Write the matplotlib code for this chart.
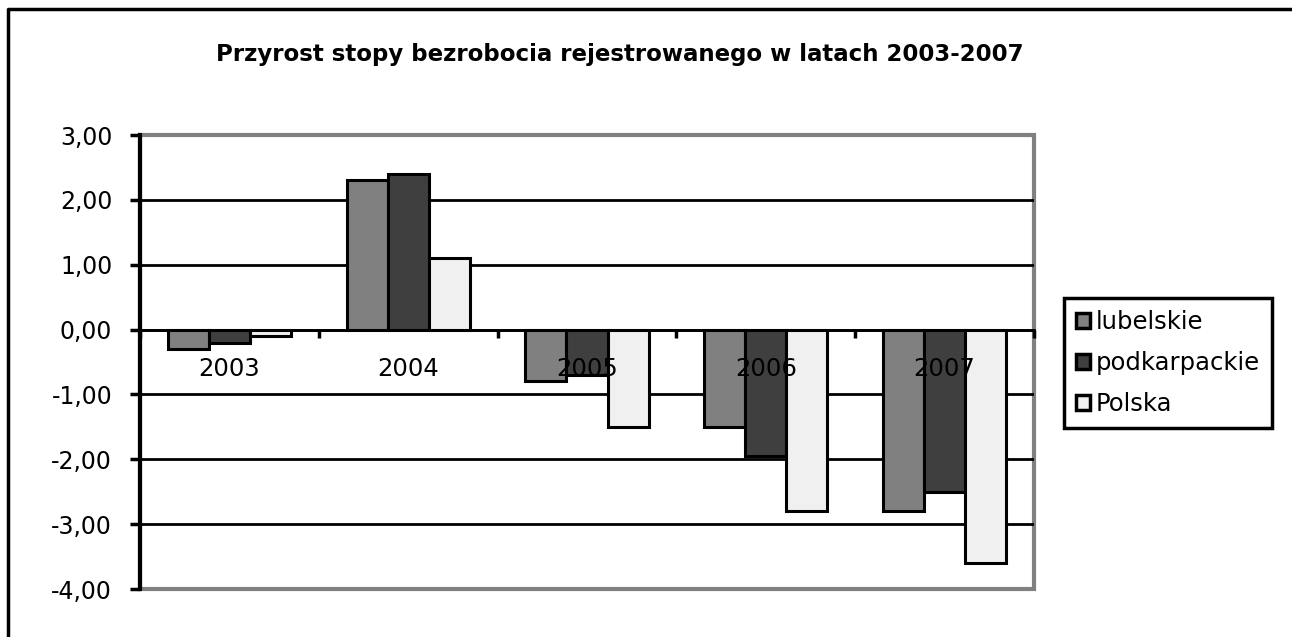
import matplotlib.pyplot as plt
import numpy as np
from matplotlib.lines import Line2D
from matplotlib.patches import Rectangle

years = ["2003", "2004", "2005", "2006", "2007"]
lubelskie = [-0.3, 2.3, -0.8, -1.5, -2.8]
podkarpackie = [-0.2, 2.4, -0.7, -1.95, -2.5]
polska = [-0.1, 1.1, -1.5, -2.8, -3.6]
series_names = ["lubelskie", "podkarpackie", "Polska"]
series_colors = ["#808080", "#3f3f3f", "#f0f0f0"]
y_ticks = [3, 2, 1, 0, -1, -2, -3, -4]

plt.rcParams["font.family"] = ["DejaVu Sans"]

fig = plt.figure(figsize=(12.92, 6.37), dpi=100)
ax = fig.add_axes([140 / 1292, 1 - 589 / 637, 894 / 1292, 454 / 637])

x = np.arange(len(years))
w = 0.23
for k, (vals, name, col) in enumerate(zip([lubelskie, podkarpackie, polska],
                                           series_names, series_colors)):
    ax.bar(x + (k - 1) * w, vals, width=w, color=col, edgecolor="black",
           linewidth=2.2, label=name, zorder=2)

ax.set_xlim(-0.5, len(years) - 0.5)
ax.set_ylim(-4, 3)
ax.set_axisbelow(False)  # category labels drawn over the bars

# horizontal grid
for v in y_ticks[1:-1]:
    ax.axhline(v, color="black", linewidth=2.0, zorder=1)

# plot area border (grey), left axis black
ax.add_patch(Rectangle((0, 0), 1, 1, transform=ax.transAxes, fill=False,
                       edgecolor="#808080", linewidth=3, zorder=0.5, clip_on=False))
for s in ["top", "right"]:
    ax.spines[s].set_visible(False)
ax.spines["left"].set_linewidth(3)
ax.spines["left"].set_zorder(4)
ax.spines["bottom"].set_position(("data", 0))
ax.spines["bottom"].set_linewidth(2.0)
ax.spines["bottom"].set_zorder(4)

ax.set_yticks(y_ticks)
ax.set_yticklabels([f"{v:.2f}".replace(".", ",") for v in y_ticks], fontsize=17)
ax.tick_params(axis="y", length=7, width=2.5, pad=13)

ax.set_xticks(np.arange(len(years) + 1) - 0.5)
ax.set_xticklabels([])
ax.tick_params(axis="x", which="major", length=6, width=2.5, direction="out")
ax.set_xticks(x, minor=True)
ax.set_xticklabels(years, minor=True, fontsize=17.5)
ax.tick_params(axis="x", which="minor", length=0, pad=20)

fig.text(0.48, 1 - 55 / 637, "Przyrost stopy bezrobocia rejestrowanego w latach 2003-2007",
         ha="center", va="center", fontsize=16.5, fontweight="bold")

leg = ax.legend(loc="center left", bbox_to_anchor=(1064 / 1292, 1 - 363 / 637),
                bbox_transform=fig.transFigure, fontsize=17.5, frameon=True,
                fancybox=False, edgecolor="black", framealpha=1,
                handlelength=0.55, handleheight=0.55, handletextpad=0.25,
                labelspacing=0.7, borderpad=0.5, borderaxespad=0)
leg.get_frame().set_linewidth(2.5)
for h in leg.legend_handles:
    h.set_linewidth(2.5)

# outer chart frame (left and top edges)
fig.add_artist(Line2D([8 / 1292, 8 / 1292, 1], [0, 1 - 9 / 637, 1 - 9 / 637],
                      transform=fig.transFigure, color="black", linewidth=2.5))

fig.savefig("out.png", dpi=100)
